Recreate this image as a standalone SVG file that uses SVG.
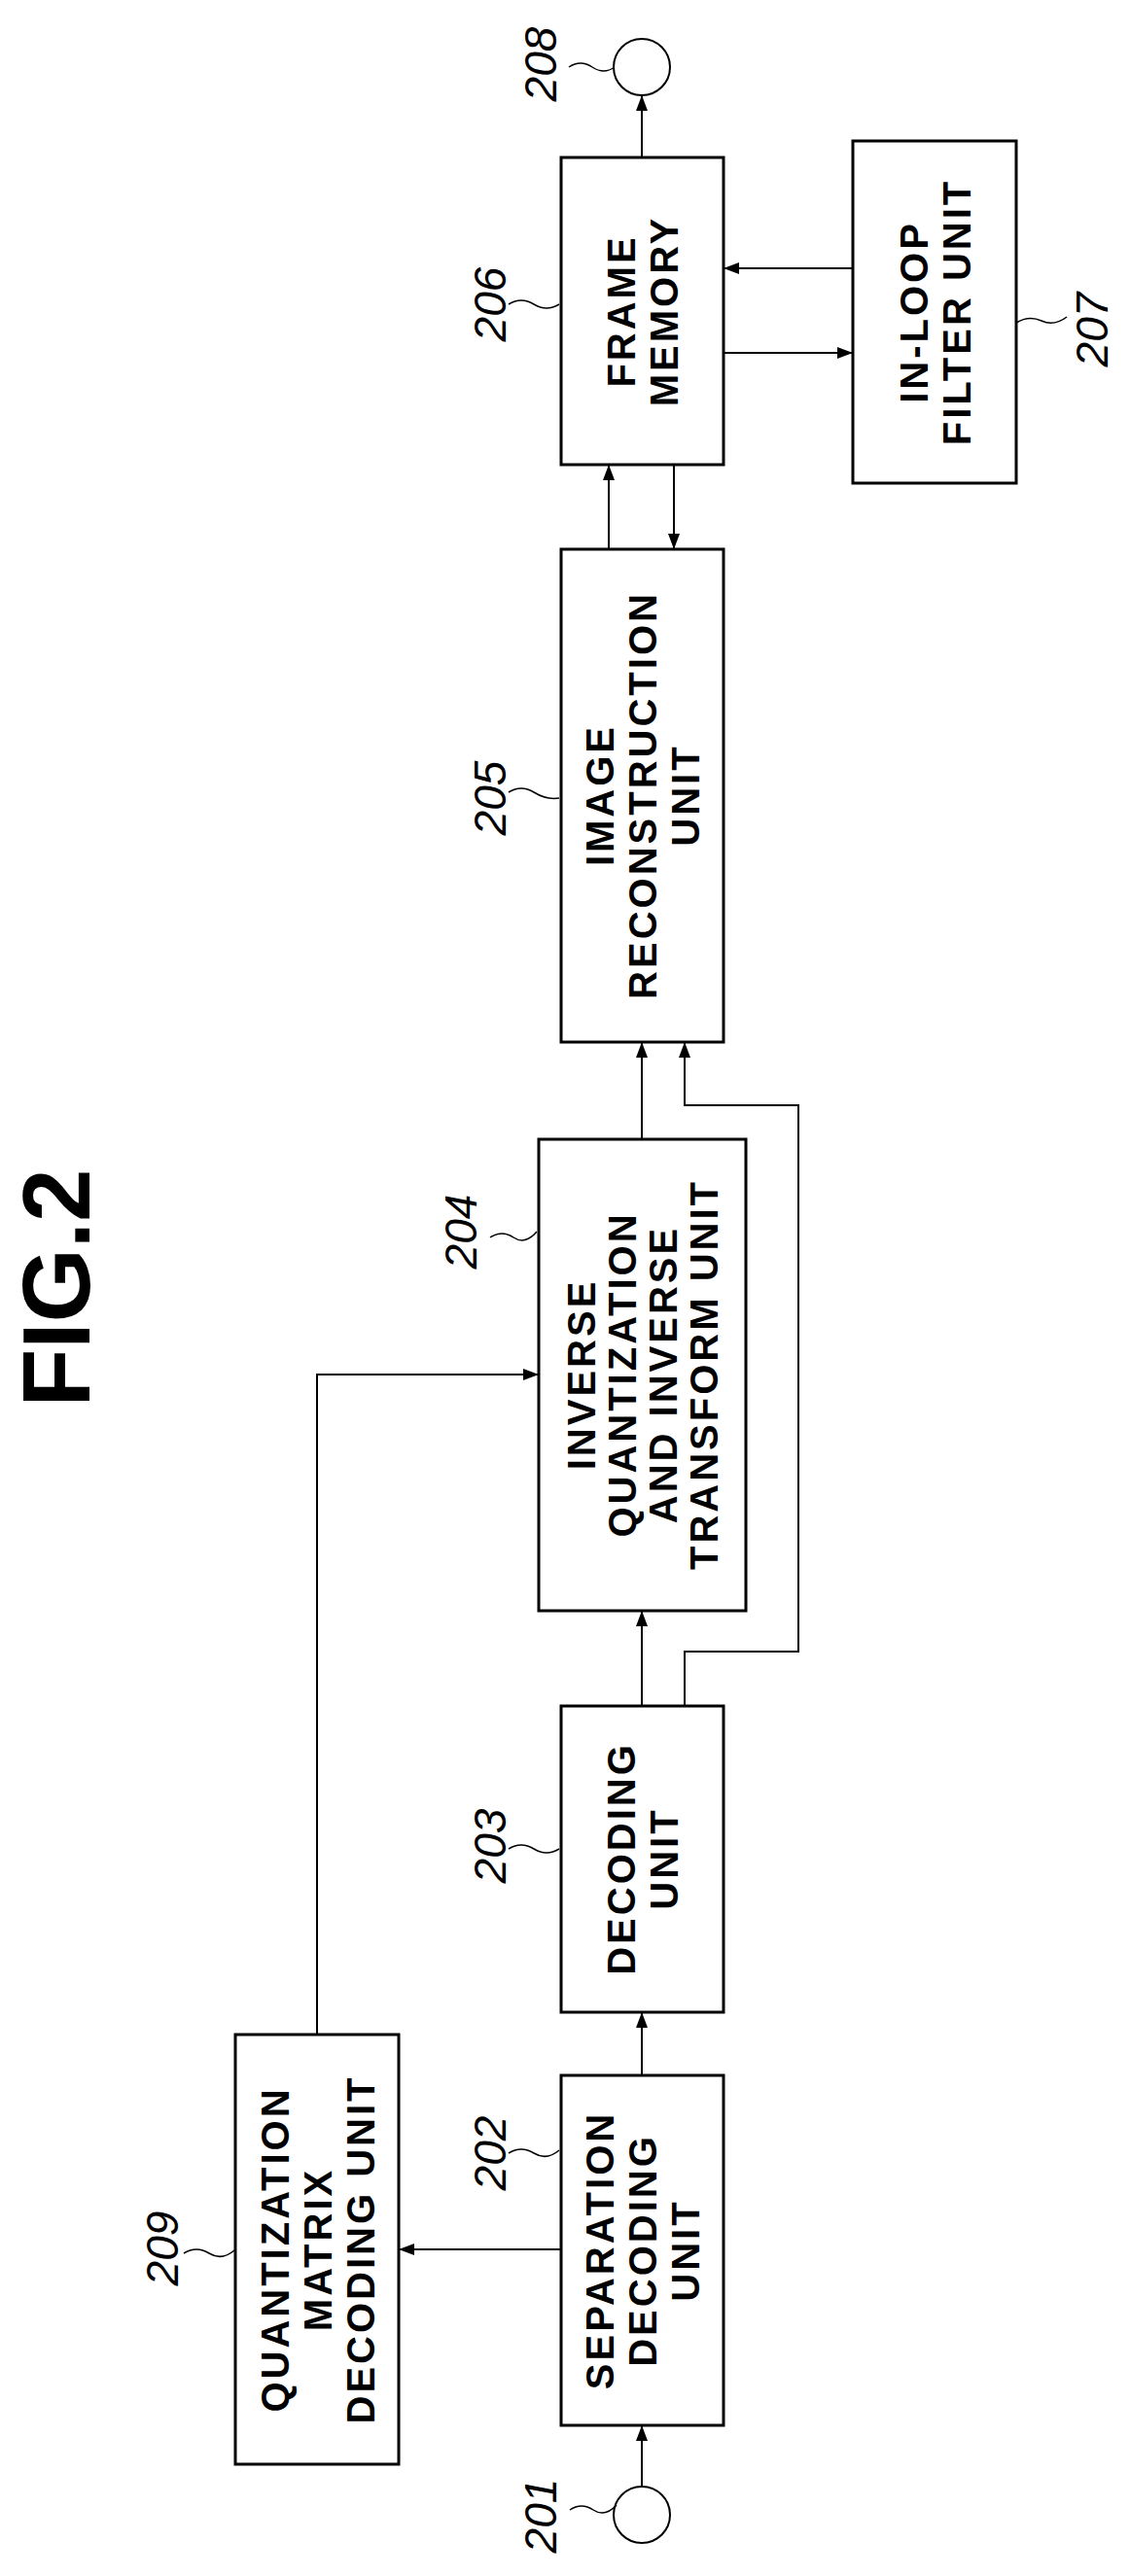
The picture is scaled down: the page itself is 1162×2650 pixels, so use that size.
<svg xmlns="http://www.w3.org/2000/svg" width="1162" height="2650" viewBox="0 0 1162 2650">
<style>
.box{fill:#fff;stroke:#000;stroke-width:3}
.ln{fill:none;stroke:#000;stroke-width:2}
.t{font-family:"Liberation Sans",Arial,sans-serif;font-weight:bold;font-size:40px;letter-spacing:3px;text-anchor:middle}
.n{font-family:"Liberation Sans",Arial,sans-serif;font-style:italic;font-size:46px;text-anchor:middle}
.sq{fill:none;stroke:#000;stroke-width:1.5}
</style>
<defs>
<marker id="ah" markerWidth="16" markerHeight="12" refX="15" refY="6" orient="auto" markerUnits="userSpaceOnUse">
<path d="M0,0 L16,6 L0,12 Z" fill="#000"/>
</marker>
</defs>
<rect width="1162" height="2650" fill="#fff"/>
<text class="t" style="font-size:98px;letter-spacing:0" transform="translate(57,1325) rotate(-90)" x="0" y="35">FIG.2</text>

<g id="n201"><circle cx="660" cy="2587" r="29" class="ln"/><text class="n" transform="translate(556,2588) rotate(-90)" y="16">201</text><path class="sq" d="M586,2582 q12,-8 24,0 t24,-5"/></g>
<g id="n202"><rect class="box" x="577" y="2135" width="167" height="360"/>
<text class="t" transform="translate(660,2315) rotate(-90)"><tspan x="0" y="-29">SEPARATION</tspan><tspan x="0" y="15">DECODING</tspan><tspan x="0" y="59">UNIT</tspan></text>
<text class="n" transform="translate(504,2215) rotate(-90)" y="16">202</text><path class="sq" d="M523,2215 q13,-8 26,0 t26,-3"/></g>
<g id="n203"><rect class="box" x="577" y="1755" width="167" height="315"/>
<text class="t" transform="translate(660,1912) rotate(-90)"><tspan x="0" y="-7">DECODING</tspan><tspan x="0" y="37">UNIT</tspan></text>
<text class="n" transform="translate(504,1899) rotate(-90)" y="16">203</text><path class="sq" d="M523,1902 q13,-8 26,0 t26,0"/></g>
<g id="n204"><rect class="box" x="554" y="1172" width="213" height="485"/>
<text class="t" transform="translate(660,1414) rotate(-90)"><tspan x="0" y="-48">INVERSE</tspan><tspan x="0" y="-6">QUANTIZATION</tspan><tspan x="0" y="36">AND INVERSE</tspan><tspan x="0" y="78">TRANSFORM UNIT</tspan></text>
<text class="n" transform="translate(474,1267) rotate(-90)" y="16">204</text><path class="sq" d="M504,1273 q12,-8 24,0 t24,-6"/></g>
<g id="n205"><rect class="box" x="577" y="565" width="167" height="507"/>
<text class="t" transform="translate(660,818) rotate(-90)"><tspan x="0" y="-29">IMAGE</tspan><tspan x="0" y="15">RECONSTRUCTION</tspan><tspan x="0" y="59">UNIT</tspan></text>
<text class="n" transform="translate(504,821) rotate(-90)" y="16">205</text><path class="sq" d="M523,815 q13,-8 26,0 t26,6"/></g>
<g id="n206"><rect class="box" x="577" y="162" width="167" height="316"/>
<text class="t" transform="translate(660,320) rotate(-90)"><tspan x="0" y="-7">FRAME</tspan><tspan x="0" y="37">MEMORY</tspan></text>
<text class="n" transform="translate(504,313) rotate(-90)" y="16">206</text><path class="sq" d="M523,313 q13,-8 26,0 t26,0"/></g>
<g id="n207"><rect class="box" x="877" y="145" width="168" height="352"/>
<text class="t" transform="translate(961,321) rotate(-90)"><tspan x="0" y="-7">IN-LOOP</tspan><tspan x="0" y="37">FILTER UNIT</tspan></text>
<text class="n" transform="translate(1123,339) rotate(-90)" y="16">207</text><path class="sq" d="M1045,332 q13,-8 26,-2 t26,-4"/></g>
<g id="n208"><circle cx="660" cy="69" r="29" class="ln"/><text class="n" transform="translate(556,66) rotate(-90)" y="16">208</text><path class="sq" d="M585,69 q12,-8 24,0 t23,0"/></g>
<g id="n209"><rect class="box" x="242" y="2093" width="168" height="442"/>
<text class="t" transform="translate(326,2314) rotate(-90)"><tspan x="0" y="-29">QUANTIZATION</tspan><tspan x="0" y="15">MATRIX</tspan><tspan x="0" y="59">DECODING UNIT</tspan></text>
<text class="n" transform="translate(167,2313) rotate(-90)" y="16">209</text><path class="sq" d="M189,2318 q13,-8 26,0 t26,-3"/></g>

<g id="connectors">
<line class="ln" x1="660" y1="2558" x2="660" y2="2496" marker-end="url(#ah)"/>
<line class="ln" x1="660" y1="2135" x2="660" y2="2071" marker-end="url(#ah)"/>
<line class="ln" x1="577" y1="2314" x2="411" y2="2314" marker-end="url(#ah)"/>
<polyline class="ln" points="326,2093 326,1414 553,1414" marker-end="url(#ah)"/>
<line class="ln" x1="660" y1="1755" x2="660" y2="1658" marker-end="url(#ah)"/>
<polyline class="ln" points="704,1755 704,1699 821,1699 821,1137 704,1137 704,1073" marker-end="url(#ah)"/>
<line class="ln" x1="660" y1="1172" x2="660" y2="1073" marker-end="url(#ah)"/>
<line class="ln" x1="626" y1="565" x2="626" y2="479" marker-end="url(#ah)"/>
<line class="ln" x1="693" y1="478" x2="693" y2="564" marker-end="url(#ah)"/>
<line class="ln" x1="744" y1="363" x2="876" y2="363" marker-end="url(#ah)"/>
<line class="ln" x1="877" y1="276" x2="745" y2="276" marker-end="url(#ah)"/>
<line class="ln" x1="660" y1="162" x2="660" y2="99" marker-end="url(#ah)"/>
</g>
</svg>
